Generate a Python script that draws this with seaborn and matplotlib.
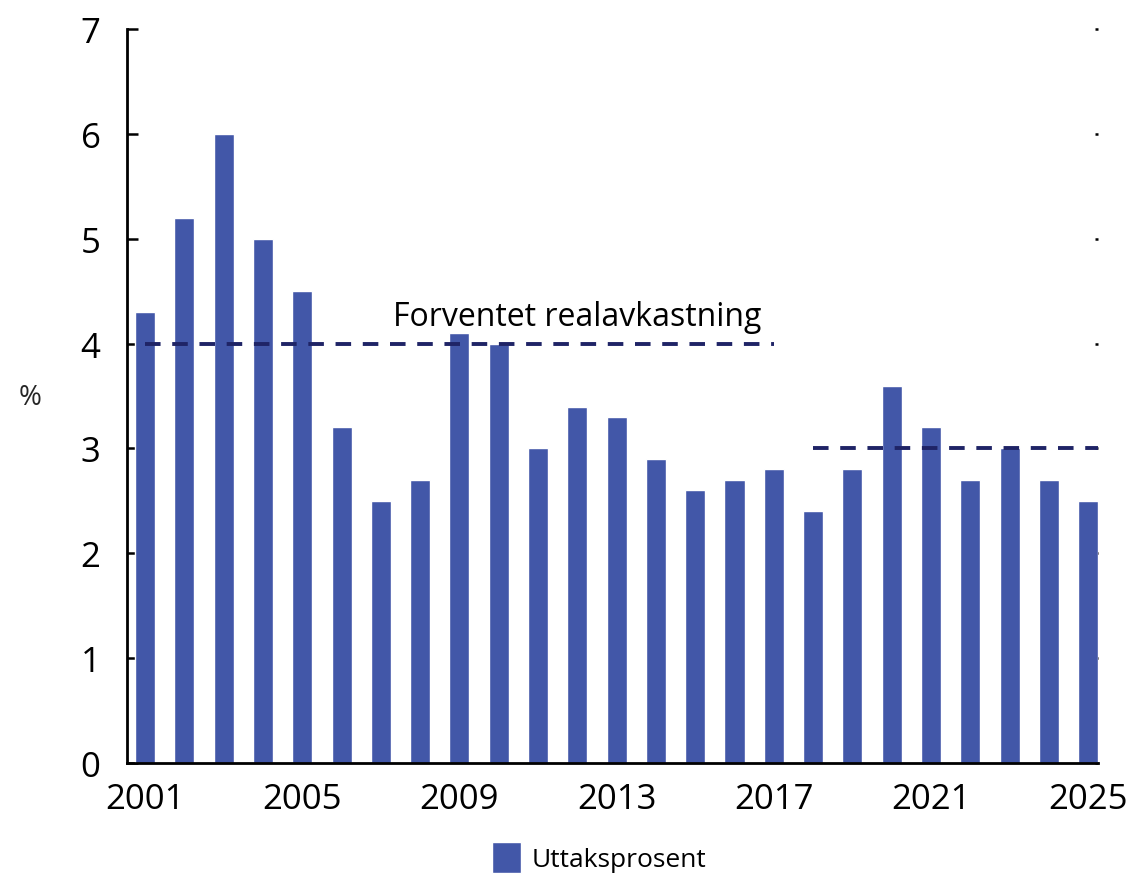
import matplotlib
matplotlib.use("Agg")
import matplotlib.pyplot as plt
import seaborn as sns
import pandas as pd
from matplotlib.patches import Patch

years = list(range(2001, 2026))
uttak = [4.3, 5.2, 6.0, 5.0, 4.5, 3.2, 2.5, 2.7, 4.1, 4.0, 3.0, 3.4, 3.3,
         2.9, 2.6, 2.7, 2.8, 2.4, 2.8, 3.6, 3.2, 2.7, 3.0, 2.7, 2.5]
# expected real return: 4 % for 2001-2017, 3 % from 2018
forventet_years = [[2001, 2017], [2018, 2025]]
forventet_vals = [4, 3]
tick_years = [2001, 2005, 2009, 2013, 2017, 2021, 2025]

sns.set_style("white")
plt.rcParams["font.family"] = ["Open Sans", "DejaVu Sans"]

df = pd.DataFrame({"year": [str(y) for y in years], "uttak": uttak})

fig = plt.figure(figsize=(11.31, 8.78), dpi=100)
ax = fig.add_axes([0.1123, 0.1298, 0.8585, 0.836])

bar_color = "#4257a8"
line_color = "#1f2466"
sns.barplot(data=df, x="year", y="uttak", color=bar_color, width=0.51,
            saturation=1, ax=ax)

xmax = len(years) - 0.75
for (y0, y1), v in zip(forventet_years, forventet_vals):
    i0 = years.index(y0)
    i1 = xmax if y1 == years[-1] else years.index(y1)
    ax.plot([i0, i1], [v, v], color=line_color, lw=2.8, ls=(0, (4.0, 3.0)),
            zorder=5)

ax.text(11.0, 4.1, "Forventet realavkastning",
        ha="center", va="bottom", fontsize=23, color="black")

ax.set_xlim(-0.46, xmax)
ax.set_ylim(0, 7)
ax.set_yticks(range(0, 8))
ax.set_xticks([years.index(y) for y in tick_years])
ax.set_xticklabels([str(y) for y in tick_years])
ax.tick_params(axis="x", length=0, labelsize=25, pad=14, colors="black")
ax.tick_params(axis="y", direction="in", length=8, width=1.8,
               labelsize=25, pad=19, colors="black", left=True, right=True)
ax.set_xlabel("")
ax.set_ylabel("%", rotation=0, fontsize=20)
ax.yaxis.set_label_coords(-0.1, 0.48)

for s in ["top", "right"]:
    ax.spines[s].set_visible(False)
for s in ["left", "bottom"]:
    ax.spines[s].set_color("black")
    ax.spines[s].set_linewidth(2)

# right-side ticks appear as tiny dots only
for t in ax.yaxis.get_major_ticks():
    t.tick2line.set_markersize(2)

fig.legend(handles=[Patch(facecolor=bar_color, label="Uttaksprosent")],
           loc="center", bbox_to_anchor=(0.53, 0.022), frameon=False,
           fontsize=19, handlelength=1.1, handleheight=1.4, handletextpad=0.4,
           labelcolor="black")

fig.savefig("out.png", dpi=100)
